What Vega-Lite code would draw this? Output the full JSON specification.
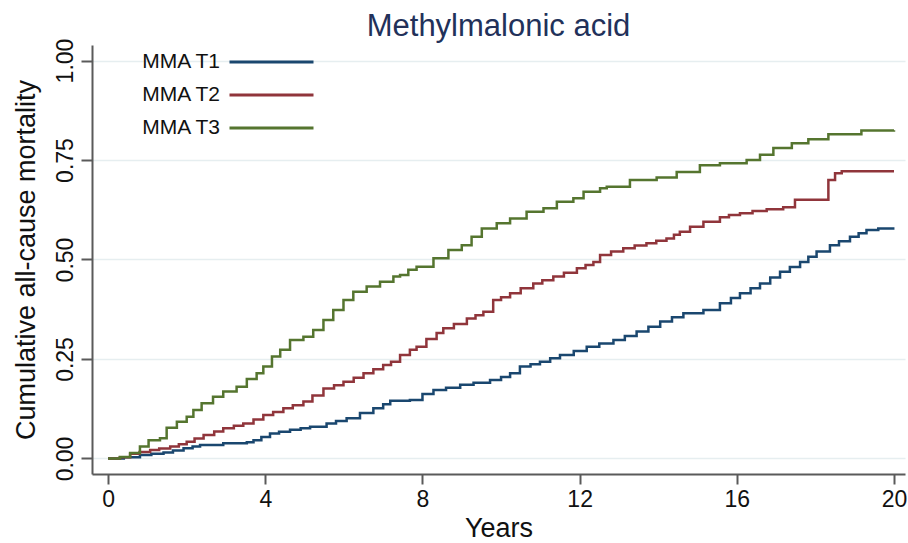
{
  "$schema": "https://vega.github.io/schema/vega-lite/v6.json",
  "width": 813,
  "height": 429,
  "autosize": {"type": "none"},
  "padding": {"left": 92, "top": 45, "right": 3, "bottom": 69},
  "background": "white",
  "title": {"text": "Methylmalonic acid", "fontSize": 31, "font": "Liberation Sans", "fontWeight": "normal", "color": "#22315a", "anchor": "middle", "offset": -5, "frame": "group"},
  "config": {
    "view": {"stroke": null},
    "font": "Liberation Sans",
    "axis": {"domainColor": "#5a5a5a", "domainWidth": 2, "tickColor": "#5a5a5a", "tickWidth": 2, "labelColor": "#111111", "titleColor": "#111111", "labelFont": "Liberation Sans", "titleFont": "Liberation Sans", "titleFontWeight": "normal"}
  },
  "datasets": {
    "km": [
      {"s":"MMA T1","t":0,"v":0},{"s":"MMA T1","t":0.4,"v":0.003},{"s":"MMA T1","t":0.81,"v":0.009},{"s":"MMA T1","t":1.1,"v":0.012},{"s":"MMA T1","t":1.41,"v":0.015},{"s":"MMA T1","t":1.65,"v":0.02},{"s":"MMA T1","t":1.92,"v":0.026},{"s":"MMA T1","t":2.15,"v":0.03},{"s":"MMA T1","t":2.34,"v":0.034},{"s":"MMA T1","t":2.93,"v":0.038},{"s":"MMA T1","t":3.53,"v":0.041},{"s":"MMA T1","t":3.7,"v":0.046},{"s":"MMA T1","t":3.9,"v":0.054},{"s":"MMA T1","t":4.12,"v":0.063},{"s":"MMA T1","t":4.35,"v":0.067},{"s":"MMA T1","t":4.63,"v":0.072},{"s":"MMA T1","t":4.9,"v":0.076},{"s":"MMA T1","t":5.14,"v":0.08},{"s":"MMA T1","t":5.56,"v":0.088},{"s":"MMA T1","t":5.8,"v":0.094},{"s":"MMA T1","t":6.07,"v":0.101},{"s":"MMA T1","t":6.41,"v":0.114},{"s":"MMA T1","t":6.75,"v":0.126},{"s":"MMA T1","t":7.0,"v":0.136},{"s":"MMA T1","t":7.18,"v":0.145},{"s":"MMA T1","t":7.68,"v":0.147},{"s":"MMA T1","t":8.0,"v":0.162},{"s":"MMA T1","t":8.28,"v":0.172},{"s":"MMA T1","t":8.6,"v":0.178},{"s":"MMA T1","t":8.96,"v":0.185},{"s":"MMA T1","t":9.3,"v":0.19},{"s":"MMA T1","t":9.72,"v":0.197},{"s":"MMA T1","t":10.0,"v":0.205},{"s":"MMA T1","t":10.23,"v":0.214},{"s":"MMA T1","t":10.48,"v":0.231},{"s":"MMA T1","t":10.75,"v":0.237},{"s":"MMA T1","t":10.99,"v":0.243},{"s":"MMA T1","t":11.25,"v":0.252},{"s":"MMA T1","t":11.5,"v":0.26},{"s":"MMA T1","t":11.85,"v":0.27},{"s":"MMA T1","t":12.18,"v":0.281},{"s":"MMA T1","t":12.5,"v":0.289},{"s":"MMA T1","t":12.86,"v":0.298},{"s":"MMA T1","t":13.15,"v":0.308},{"s":"MMA T1","t":13.45,"v":0.319},{"s":"MMA T1","t":13.75,"v":0.331},{"s":"MMA T1","t":14.05,"v":0.344},{"s":"MMA T1","t":14.35,"v":0.355},{"s":"MMA T1","t":14.64,"v":0.365},{"s":"MMA T1","t":15.15,"v":0.373},{"s":"MMA T1","t":15.57,"v":0.39},{"s":"MMA T1","t":15.85,"v":0.403},{"s":"MMA T1","t":16.08,"v":0.415},{"s":"MMA T1","t":16.35,"v":0.428},{"s":"MMA T1","t":16.59,"v":0.44},{"s":"MMA T1","t":16.85,"v":0.455},{"s":"MMA T1","t":17.1,"v":0.469},{"s":"MMA T1","t":17.35,"v":0.481},{"s":"MMA T1","t":17.61,"v":0.494},{"s":"MMA T1","t":17.82,"v":0.507},{"s":"MMA T1","t":18.03,"v":0.52},{"s":"MMA T1","t":18.37,"v":0.536},{"s":"MMA T1","t":18.6,"v":0.546},{"s":"MMA T1","t":18.88,"v":0.557},{"s":"MMA T1","t":19.1,"v":0.566},{"s":"MMA T1","t":19.3,"v":0.574},{"s":"MMA T1","t":19.6,"v":0.578},{"s":"MMA T1","t":19.98,"v":0.581},
      {"s":"MMA T2","t":0,"v":0},{"s":"MMA T2","t":0.3,"v":0.003},{"s":"MMA T2","t":0.56,"v":0.012},{"s":"MMA T2","t":0.8,"v":0.016},{"s":"MMA T2","t":1.07,"v":0.021},{"s":"MMA T2","t":1.3,"v":0.025},{"s":"MMA T2","t":1.58,"v":0.03},{"s":"MMA T2","t":1.8,"v":0.036},{"s":"MMA T2","t":2.0,"v":0.042},{"s":"MMA T2","t":2.2,"v":0.05},{"s":"MMA T2","t":2.43,"v":0.059},{"s":"MMA T2","t":2.7,"v":0.068},{"s":"MMA T2","t":2.93,"v":0.076},{"s":"MMA T2","t":3.2,"v":0.082},{"s":"MMA T2","t":3.44,"v":0.088},{"s":"MMA T2","t":3.7,"v":0.098},{"s":"MMA T2","t":3.95,"v":0.109},{"s":"MMA T2","t":4.2,"v":0.117},{"s":"MMA T2","t":4.46,"v":0.126},{"s":"MMA T2","t":4.7,"v":0.134},{"s":"MMA T2","t":4.97,"v":0.143},{"s":"MMA T2","t":5.2,"v":0.158},{"s":"MMA T2","t":5.48,"v":0.176},{"s":"MMA T2","t":5.75,"v":0.184},{"s":"MMA T2","t":5.99,"v":0.193},{"s":"MMA T2","t":6.25,"v":0.203},{"s":"MMA T2","t":6.5,"v":0.214},{"s":"MMA T2","t":6.75,"v":0.224},{"s":"MMA T2","t":7.0,"v":0.235},{"s":"MMA T2","t":7.2,"v":0.243},{"s":"MMA T2","t":7.43,"v":0.26},{"s":"MMA T2","t":7.68,"v":0.273},{"s":"MMA T2","t":7.85,"v":0.281},{"s":"MMA T2","t":8.1,"v":0.3},{"s":"MMA T2","t":8.36,"v":0.315},{"s":"MMA T2","t":8.53,"v":0.327},{"s":"MMA T2","t":8.8,"v":0.338},{"s":"MMA T2","t":9.13,"v":0.352},{"s":"MMA T2","t":9.35,"v":0.36},{"s":"MMA T2","t":9.55,"v":0.369},{"s":"MMA T2","t":9.8,"v":0.398},{"s":"MMA T2","t":10.0,"v":0.405},{"s":"MMA T2","t":10.23,"v":0.415},{"s":"MMA T2","t":10.5,"v":0.428},{"s":"MMA T2","t":10.82,"v":0.44},{"s":"MMA T2","t":11.05,"v":0.448},{"s":"MMA T2","t":11.33,"v":0.457},{"s":"MMA T2","t":11.6,"v":0.467},{"s":"MMA T2","t":11.93,"v":0.478},{"s":"MMA T2","t":12.15,"v":0.486},{"s":"MMA T2","t":12.35,"v":0.494},{"s":"MMA T2","t":12.52,"v":0.511},{"s":"MMA T2","t":12.8,"v":0.52},{"s":"MMA T2","t":13.11,"v":0.528},{"s":"MMA T2","t":13.4,"v":0.535},{"s":"MMA T2","t":13.7,"v":0.541},{"s":"MMA T2","t":13.95,"v":0.547},{"s":"MMA T2","t":14.21,"v":0.553},{"s":"MMA T2","t":14.4,"v":0.562},{"s":"MMA T2","t":14.55,"v":0.57},{"s":"MMA T2","t":14.81,"v":0.582},{"s":"MMA T2","t":15.15,"v":0.595},{"s":"MMA T2","t":15.57,"v":0.606},{"s":"MMA T2","t":15.8,"v":0.612},{"s":"MMA T2","t":16.08,"v":0.616},{"s":"MMA T2","t":16.4,"v":0.622},{"s":"MMA T2","t":16.76,"v":0.626},{"s":"MMA T2","t":17.18,"v":0.631},{"s":"MMA T2","t":17.48,"v":0.65},{"s":"MMA T2","t":18.33,"v":0.7},{"s":"MMA T2","t":18.5,"v":0.717},{"s":"MMA T2","t":18.67,"v":0.722},{"s":"MMA T2","t":20.0,"v":0.722},
      {"s":"MMA T3","t":0,"v":0},{"s":"MMA T3","t":0.3,"v":0.004},{"s":"MMA T3","t":0.56,"v":0.014},{"s":"MMA T3","t":0.81,"v":0.03},{"s":"MMA T3","t":1.03,"v":0.046},{"s":"MMA T3","t":1.32,"v":0.051},{"s":"MMA T3","t":1.49,"v":0.077},{"s":"MMA T3","t":1.75,"v":0.092},{"s":"MMA T3","t":2.0,"v":0.105},{"s":"MMA T3","t":2.17,"v":0.122},{"s":"MMA T3","t":2.38,"v":0.139},{"s":"MMA T3","t":2.67,"v":0.155},{"s":"MMA T3","t":2.93,"v":0.168},{"s":"MMA T3","t":3.27,"v":0.18},{"s":"MMA T3","t":3.53,"v":0.2},{"s":"MMA T3","t":3.78,"v":0.214},{"s":"MMA T3","t":3.95,"v":0.231},{"s":"MMA T3","t":4.17,"v":0.256},{"s":"MMA T3","t":4.38,"v":0.273},{"s":"MMA T3","t":4.63,"v":0.298},{"s":"MMA T3","t":4.97,"v":0.306},{"s":"MMA T3","t":5.22,"v":0.323},{"s":"MMA T3","t":5.48,"v":0.348},{"s":"MMA T3","t":5.73,"v":0.373},{"s":"MMA T3","t":5.99,"v":0.398},{"s":"MMA T3","t":6.24,"v":0.419},{"s":"MMA T3","t":6.58,"v":0.432},{"s":"MMA T3","t":6.92,"v":0.444},{"s":"MMA T3","t":7.26,"v":0.457},{"s":"MMA T3","t":7.43,"v":0.461},{"s":"MMA T3","t":7.64,"v":0.474},{"s":"MMA T3","t":7.85,"v":0.482},{"s":"MMA T3","t":8.28,"v":0.503},{"s":"MMA T3","t":8.66,"v":0.524},{"s":"MMA T3","t":9.0,"v":0.536},{"s":"MMA T3","t":9.25,"v":0.557},{"s":"MMA T3","t":9.51,"v":0.578},{"s":"MMA T3","t":9.89,"v":0.591},{"s":"MMA T3","t":10.23,"v":0.603},{"s":"MMA T3","t":10.65,"v":0.62},{"s":"MMA T3","t":11.08,"v":0.629},{"s":"MMA T3","t":11.42,"v":0.645},{"s":"MMA T3","t":11.84,"v":0.654},{"s":"MMA T3","t":12.1,"v":0.67},{"s":"MMA T3","t":12.52,"v":0.679},{"s":"MMA T3","t":12.69,"v":0.683},{"s":"MMA T3","t":13.28,"v":0.7},{"s":"MMA T3","t":13.96,"v":0.706},{"s":"MMA T3","t":14.47,"v":0.72},{"s":"MMA T3","t":15.06,"v":0.737},{"s":"MMA T3","t":15.57,"v":0.742},{"s":"MMA T3","t":16.25,"v":0.75},{"s":"MMA T3","t":16.59,"v":0.763},{"s":"MMA T3","t":16.93,"v":0.78},{"s":"MMA T3","t":17.4,"v":0.792},{"s":"MMA T3","t":17.82,"v":0.802},{"s":"MMA T3","t":18.33,"v":0.815},{"s":"MMA T3","t":19.17,"v":0.824},{"s":"MMA T3","t":20.0,"v":0.825}
    ]
  },
  "data": {"name": "km"},
  "mark": {"type": "line", "interpolate": "step-after", "strokeWidth": 2.5},
  "encoding": {
    "x": {"field": "t", "type": "quantitative", "scale": {"domain": [-0.41, 20.28], "nice": false, "zero": false},
      "axis": {"title": "Years", "values": [0, 4, 8, 12, 16, 20], "grid": false, "tickSize": 10, "labelFontSize": 23, "labelPadding": 4, "titleFontSize": 27, "titlePadding": 4}},
    "y": {"field": "v", "type": "quantitative", "scale": {"domain": [-0.039, 1.039], "nice": false, "zero": false},
      "axis": {"title": "Cumulative all-cause mortality", "values": [0, 0.25, 0.5, 0.75, 1], "format": ".2f", "grid": true, "gridColor": "#e6eef0", "gridWidth": 1.5, "tickSize": 11, "labelAngle": -90, "labelFontSize": 23, "labelPadding": 4, "titleFontSize": 27, "titlePadding": 14}},
    "color": {"field": "s", "type": "nominal", "scale": {"domain": ["MMA T1", "MMA T2", "MMA T3"], "range": ["#1a476f", "#90353b", "#55752f"]},
      "legend": {"title": null, "orient": "none", "legendX": 167.5, "legendY": 5, "symbolType": "M-4,0H4", "symbolSize": 441, "symbolStrokeWidth": 3, "symbolFillColor": "transparent", "labelFontSize": 21, "labelColor": "#111111", "labelAlign": "right", "labelOffset": -63.5, "rowPadding": 11}}
  }
}
